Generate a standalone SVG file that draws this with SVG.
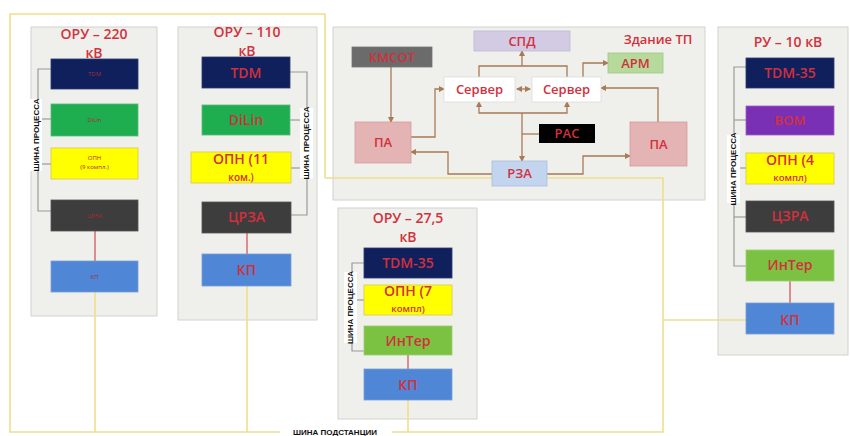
<svg xmlns="http://www.w3.org/2000/svg" width="850" height="436" viewBox="0 0 850 436">
<defs>
<style>
.panel{fill:#efefeb;stroke:#d2d2cf;stroke-width:1}
.title{font-family:"Open Sans","Liberation Sans",sans-serif;font-size:14px;font-weight:600;fill:#d23340;text-anchor:middle}
.lbl{font-family:"Open Sans","Liberation Sans",sans-serif;font-size:14px;font-weight:600;fill:#d2303c;text-anchor:middle}
.lbls{font-family:"Open Sans","Liberation Sans",sans-serif;font-size:13px;font-weight:600;fill:#d2303c;text-anchor:middle}
.tiny{font-family:"Open Sans","Liberation Sans",sans-serif;font-size:6px;fill:#a8283a;text-anchor:middle}
.bus{font-family:"Liberation Sans","DejaVu Sans",sans-serif;font-size:8px;font-weight:bold;fill:#111;text-anchor:middle}
.navy{fill:#0f205c;stroke:#2a3a70;stroke-width:0.8}
.green{fill:#1fae4f;stroke:#5ab87a;stroke-width:0.8}
.yellow{fill:#ffff00;stroke:#d8c84a;stroke-width:0.8}
.dark{fill:#3d3d3d;stroke:#555;stroke-width:0.8}
.blue{fill:#4f86d6;stroke:#7a9fd6;stroke-width:0.8}
.lgreen{fill:#7cc242;stroke:#9ccf72;stroke-width:0.8}
.purple{fill:#7a30b4;stroke:#9a62c4;stroke-width:0.8}
.yl{fill:none;stroke:#eedf8c;stroke-width:1.6}
.gl{fill:none;stroke:#9a9a9a;stroke-width:1.2}
.rl{fill:none;stroke:#cf4a52;stroke-width:1.2}
.bl{fill:none;stroke:#a87a55;stroke-width:1.3}
.ba{fill:none;stroke:#a87a55;stroke-width:1.3;marker-end:url(#ah)}
</style>
<marker id="ah" markerWidth="6" markerHeight="6" refX="5" refY="3" orient="auto" markerUnits="userSpaceOnUse">
<path d="M0,0 L6,3 L0,6 Z" fill="#a87a55"/>
</marker>
<marker id="ahs" markerWidth="6" markerHeight="6" refX="1" refY="3" orient="auto" markerUnits="userSpaceOnUse">
<path d="M6,0 L0,3 L6,6 Z" fill="#a87a55"/>
</marker>
</defs>
<rect width="850" height="436" fill="#ffffff"/>

<!-- panels -->
<rect class="panel" x="31" y="27" width="126" height="289"/>
<rect class="panel" x="178" y="27" width="139" height="293"/>
<rect class="panel" x="333" y="27" width="372" height="173"/>
<rect class="panel" x="718" y="27" width="130" height="328"/>
<rect class="panel" x="338" y="208" width="139" height="211"/>

<!-- connectors -->
<g id="connectors">
<polyline class="yl" points="325,178 325,14 10,14 10,432 663,432 663,178 547,178"/>
<line class="yl" x1="325" y1="178" x2="492" y2="178"/>
<line class="yl" x1="663" y1="320" x2="746" y2="320"/>
<line class="yl" x1="95" y1="292" x2="95" y2="432"/>
<line class="yl" x1="247" y1="286" x2="247" y2="432"/>
<line class="yl" x1="408" y1="400" x2="408" y2="432"/>
<rect x="280" y="425" width="112" height="11" fill="#ffffff"/>
<text class="bus" x="335" y="435">ШИНА ПОДСТАНЦИИ</text>

<line class="rl" x1="95" y1="231" x2="95" y2="261"/>
<line class="rl" x1="247" y1="233" x2="247" y2="254"/>
<line class="rl" x1="408" y1="355" x2="408" y2="369"/>
<line class="rl" x1="790" y1="281" x2="790" y2="303"/>

<polyline class="gl" points="51,69 38,69 38,211 51,211"/>
<line class="gl" x1="38" y1="119" x2="51" y2="119"/>
<line class="gl" x1="38" y1="164" x2="51" y2="164"/>
<polyline class="gl" points="290,72 307,72 307,215 291,215"/>
<line class="gl" x1="290" y1="120" x2="307" y2="120"/>
<line class="gl" x1="291" y1="168" x2="307" y2="168"/>
<polyline class="gl" points="364,263 352,263 352,351 364,351"/>
<line class="gl" x1="352" y1="300" x2="364" y2="300"/>
<polyline class="gl" points="746,67 734,67 734,266 746,266"/>
<line class="gl" x1="734" y1="120" x2="746" y2="120"/>
<line class="gl" x1="734" y1="168" x2="746" y2="168"/>
<line class="gl" x1="734" y1="217" x2="746" y2="217"/>

<line class="ba" x1="391" y1="67" x2="391" y2="122"/>
<polyline class="ba" points="411,137 435,137 435,89 444,89"/>
<polyline class="ba" points="492,174 448,174 448,152 411,152"/>
<polyline class="bl" points="479,77 479,66 567,66 567,77"/>
<line class="ba" x1="522" y1="66" x2="522" y2="51"/>
<polyline class="ba" points="583,77 583,63 608,63"/>
<line class="bl" x1="517" y1="89" x2="530" y2="89" marker-start="url(#ahs)" marker-end="url(#ah)"/>
<polyline class="ba" points="522,113 479,113 479,102"/>
<polyline class="ba" points="522,113 567,113 567,102"/>
<line class="ba" x1="522" y1="113" x2="522" y2="161"/>
<line class="bl" x1="522" y1="134" x2="539" y2="134"/>
<polyline class="ba" points="547,174 583,174 583,156 630,156"/>
<polyline class="ba" points="658,122 658,88 601,88"/>
</g>

<!-- ОРУ 220 -->
<g id="oru220">
<text class="title" x="94" y="39">ОРУ – 220<tspan x="94" dy="18.5">кВ</tspan></text>
<rect x="29" y="99" width="13" height="72" fill="#ffffff"/>
<text class="bus" transform="translate(39,135) rotate(-90)">ШИНА ПРОЦЕССА</text>
</g>
<g id="oru220-tdm"><rect class="navy" x="51" y="59" width="87" height="30"/><text class="tiny" x="94.5" y="76">TDM</text></g>
<g id="oru220-dilin"><rect class="green" x="51" y="104" width="87" height="32"/><text class="tiny" x="94.5" y="122">DiLin</text></g>
<g id="oru220-opn"><rect class="yellow" x="51" y="148" width="87" height="31"/><text class="tiny" x="94.5" y="160">ОПН<tspan x="94.5" dy="9">(9 компл.)</tspan></text></g>
<g id="oru220-crza"><rect class="dark" x="51" y="200" width="87" height="31"/><text class="tiny" x="94.5" y="218">ЦРЗА</text></g>
<g id="oru220-kp"><rect class="blue" x="51" y="261" width="87" height="31"/><text class="tiny" x="94.5" y="279">КП</text></g>

<!-- ОРУ 110 -->
<g id="oru110">
<text class="title" x="247" y="37">ОРУ – 110<tspan x="247" dy="18.5">кВ</tspan></text>
<rect x="300" y="108" width="13" height="70" fill="#ffffff"/>
<text class="bus" transform="translate(309,143) rotate(-90)">ШИНА ПРОЦЕССА</text>
</g>
<g id="oru110-tdm"><rect class="navy" x="202" y="57" width="88" height="31"/><text class="lbl" x="246" y="78">TDM</text></g>
<g id="oru110-dilin"><rect class="green" x="202" y="105" width="88" height="30"/><text class="lbl" x="246" y="125">DiLin</text></g>
<g id="oru110-opn"><rect class="yellow" x="191" y="152" width="100" height="31"/><text class="lbl" x="241" y="164" font-size="13.5">ОПН (11<tspan x="241" dy="17" font-size="10">ком.)</tspan></text></g>
<g id="oru110-crza"><rect class="dark" x="202" y="202" width="89" height="31"/><text class="lbl" x="246.5" y="222">ЦРЗА</text></g>
<g id="oru110-kp"><rect class="blue" x="202" y="254" width="89" height="32"/><text class="lbl" x="246.5" y="275">КП</text></g>

<!-- Здание ТП -->
<g id="building"><text class="lbls" x="658" y="44">Здание ТП</text></g>
<g id="spd"><rect x="474" y="31" width="96" height="20" fill="#d3cbe3" stroke="#c0b8d4" stroke-width="0.8"/><text class="lbls" x="522" y="46">СПД</text></g>
<g id="kmsot"><rect x="352" y="47" width="80" height="20" fill="#6b6b6b" stroke="#777" stroke-width="0.8"/><text class="lbls" x="392" y="62">КМСОТ</text></g>
<g id="arm"><rect x="608" y="53" width="55" height="20" fill="#b6d99c" stroke="#a0c88a" stroke-width="0.8"/><text class="lbls" x="635.5" y="68">АРМ</text></g>
<g id="server1"><rect x="444" y="77" width="71" height="25" fill="#ffffff" stroke="#ddd" stroke-width="0.8"/><text class="lbls" x="479.5" y="94">Сервер</text></g>
<g id="server2"><rect x="532" y="77" width="69" height="25" fill="#ffffff" stroke="#ddd" stroke-width="0.8"/><text class="lbls" x="566.5" y="94">Сервер</text></g>
<g id="pac"><rect x="539" y="124" width="56" height="19" fill="#000000"/><text class="lbls" x="567" y="138">РАС</text></g>
<g id="pa1"><rect x="355" y="122" width="56" height="41" fill="#e4b3b3" stroke="#d49c9c" stroke-width="0.8"/><text class="lbls" x="383" y="147">ПА</text></g>
<g id="pa2"><rect x="630" y="122" width="57" height="44" fill="#e4b3b3" stroke="#d49c9c" stroke-width="0.8"/><text class="lbls" x="658.5" y="149">ПА</text></g>
<g id="rza"><rect x="492" y="161" width="55" height="25" fill="#c3d4ee" stroke="#a9bde0" stroke-width="0.8"/><text class="lbls" x="519.5" y="178">РЗА</text></g>

<!-- ОРУ 27,5 -->
<g id="oru275">
<text class="title" x="408" y="223">ОРУ – 27,5<tspan x="408" dy="18.5">кВ</tspan></text>
<rect x="344" y="272" width="13" height="71" fill="#ffffff"/>
<text class="bus" transform="translate(353,307.5) rotate(-90)">ШИНА ПРОЦЕССА</text>
</g>
<g id="oru275-tdm"><rect class="navy" x="364" y="248" width="88" height="30"/><text class="lbl" x="408" y="268">TDM-35</text></g>
<g id="oru275-opn"><rect class="yellow" x="364" y="285" width="88" height="30"/><text class="lbl" x="408" y="296" font-size="12.5">ОПН (7<tspan x="408" dy="16" font-size="9.5">компл)</tspan></text></g>
<g id="oru275-inter"><rect class="lgreen" x="364" y="326" width="88" height="29"/><text class="lbl" x="408" y="346" fill="#d2472e">ИнТер</text></g>
<g id="oru275-kp"><rect class="blue" x="364" y="369" width="88" height="31"/><text class="lbl" x="408" y="390">КП</text></g>

<!-- РУ 10 -->
<g id="ru10">
<text class="title" x="788" y="47">РУ – 10 кВ</text>
<rect x="727" y="135" width="13" height="68" fill="#ffffff"/>
<text class="bus" transform="translate(736,169) rotate(-90)">ШИНА ПРОЦЕССА</text>
</g>
<g id="ru10-tdm"><rect class="navy" x="746" y="58" width="88" height="30"/><text class="lbl" x="790" y="78">TDM-35</text></g>
<g id="ru10-vom"><rect class="purple" x="746" y="106" width="88" height="29"/><text class="lbls" x="790" y="125" font-size="10">ВОМ</text></g>
<g id="ru10-opn"><rect class="yellow" x="746" y="153" width="88" height="31"/><text class="lbl" x="790" y="165" font-size="12.5">ОПН (4<tspan x="790" dy="16" font-size="9.5">компл)</tspan></text></g>
<g id="ru10-czra"><rect class="dark" x="746" y="201" width="88" height="31"/><text class="lbl" x="790" y="221">ЦЗРА</text></g>
<g id="ru10-inter"><rect class="lgreen" x="746" y="250" width="88" height="31"/><text class="lbl" x="790" y="270" fill="#d2472e">ИнТер</text></g>
<g id="ru10-kp"><rect class="blue" x="746" y="303" width="88" height="31"/><text class="lbl" x="790" y="325" font-size="16">КП</text></g>
</svg>
